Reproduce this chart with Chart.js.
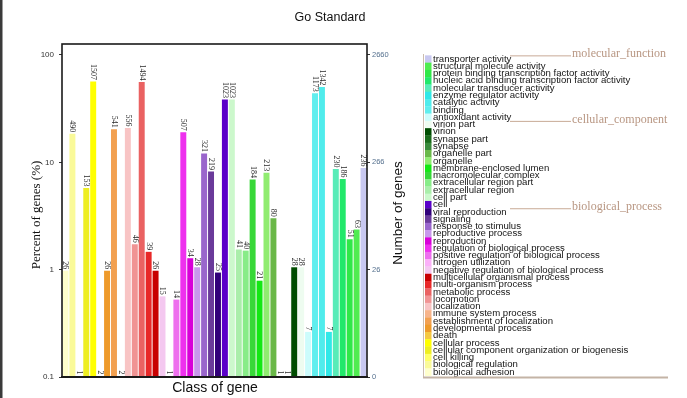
<!DOCTYPE html>
<html>
<head>
<meta charset="utf-8">
<script src="https://cdn.jsdelivr.net/npm/chart.js@4/dist/chart.umd.min.js"></script>
<style>
  html, body { margin: 0; padding: 0; background: #fff; }
  #wrap { position: relative; width: 687px; height: 398px; }
</style>
</head>
<body>
<div id="wrap"><canvas id="c" width="687" height="398"></canvas></div>
<script>
// GO terms, ordered left to right along the x axis
const categories = [
  'biological adhesion', 'biological regulation', 'cell killing',
  'cellular component organization or biogenesis', 'cellular process', 'death',
  'developmental process', 'establishment of localization', 'immune system process',
  'localization', 'locomotion', 'metabolic process', 'multi-organism process',
  'multicellular organismal process', 'negative regulation of biological process',
  'nitrogen utilization', 'positive regulation of biological process',
  'regulation of biological process', 'reproduction', 'reproductive process',
  'response to stimulus', 'signaling', 'viral reproduction',
  'cell', 'cell part', 'extracellular region', 'extracellular region part',
  'macromolecular complex', 'membrane-enclosed lumen', 'organelle', 'organelle part',
  'synapse', 'synapse part', 'virion', 'virion part',
  'antioxidant activity', 'binding', 'catalytic activity', 'enzyme regulator activity',
  'molecular transducer activity', 'nucleic acid binding transcription factor activity',
  'protein binding transcription factor activity', 'structural molecule activity',
  'transporter activity'
];

// number of genes annotated to each term
const geneCounts = [
  26, 490, 1, 153, 1507, 2,
  26, 541, 2, 556, 46, 1494, 39,
  26, 15, 1, 14,
  507, 34, 28, 321, 219, 25,
  1023, 1023, 41, 40, 184, 21, 213, 80,
  1, 1, 28, 28,
  7, 1173, 1342, 7, 230, 186, 51, 63, 236
];

const barColors = [
  '#ffffcc', '#fafa99', '#ffff66', '#eeee22', '#ffff00', '#f5c842',
  '#ee9a2a', '#f2a050', '#f7b48a', '#f8c4c4', '#f09494', '#ea6262', '#e82828',
  '#c80000', '#f4c8f0', '#fbb0f8', '#ee70ee', '#ee30ee', '#d800d8', '#c898ec',
  '#9a66cc', '#6a3a9a', '#32007a',
  '#5a00c8', '#ccf8cc', '#aaeeaa', '#88ec88', '#38d838', '#14e814', '#90ec70', '#6ab848',
  '#3a8a3a', '#1a6a1a', '#004c00', '#eefcf0',
  '#ccfcfc', '#60eeee', '#50ecec', '#30e8e8', '#58ecb8', '#22e86a', '#30e848', '#50ec50',
  '#c8c8f0'
];

// ontology groups: first term index of each group
const groupNames  = ['biological_process', 'cellular_component', 'molecular_function'];
const groupStarts = [0, 23, 35];

const TOTAL_GENES = 2660;
const pctTicks = [0.1, 1, 10, 100];
const pctTickLabels = ['0.1', '1', '10', '100'];
const countTicks = [2.66, 26.6, 266, 2660];
const countTickLabels = ['0', '26', '266', '2660'];
const PCT_MIN = 0.1, PCT_MAX = 126.6;

// value labels on top of the bars, written sideways
const barLabels = {
  id: 'barLabels',
  afterDatasetsDraw(chart) {
    const ctx = chart.ctx;
    const area = chart.chartArea;
    const meta = chart.getDatasetMeta(0);
    ctx.save();
    ctx.fillStyle = '#2a2a2a';
    ctx.font = '8px "Liberation Serif", serif';
    meta.data.forEach((bar, i) => {
      const top = Math.min(bar.y, area.bottom - 1);
      ctx.save();
      ctx.translate(bar.x, top - 1.5);
      ctx.rotate(Math.PI / 2);
      ctx.textAlign = 'right';
      ctx.textBaseline = 'middle';
      ctx.fillText(String(geneCounts[i]), 0, 0);
      ctx.restore();
    });
    ctx.restore();
  }
};

// frame, titles and the grouped term list on the right
const decorations = {
  id: 'decorations',
  afterDraw(chart) {
    const ctx = chart.ctx;
    const a = chart.chartArea;
    ctx.save();

    // dark edge on the left of the page
    ctx.fillStyle = '#3a3a3a';
    ctx.fillRect(0, 0, 2.5, chart.height);

    // plot frame
    ctx.strokeStyle = '#1a1a1a';
    ctx.lineWidth = 1.6;
    ctx.strokeRect(a.left, a.top, a.right - a.left, a.bottom - a.top);
    ctx.lineWidth = 2.2;
    ctx.beginPath();
    ctx.moveTo(a.left - 1, a.bottom);
    ctx.lineTo(a.right + 1, a.bottom);
    ctx.stroke();

    // title
    ctx.fillStyle = '#111';
    ctx.font = '12.5px "Liberation Sans", Arial, sans-serif';
    ctx.textAlign = 'center';
    ctx.textBaseline = 'middle';
    ctx.fillText('Go Standard', 330, 18);

    // x axis title
    ctx.font = '14px "Liberation Sans", Arial, sans-serif';
    ctx.fillText('Class of gene', 215, 388);

    // left axis title
    ctx.save();
    ctx.translate(37, 215);
    ctx.rotate(-Math.PI / 2);
    ctx.font = '13px "Liberation Serif", serif';
    ctx.fillText('Percent of genes (%)', 0, 0);
    ctx.restore();

    // right axis title
    ctx.save();
    ctx.translate(398, 213);
    ctx.rotate(-Math.PI / 2);
    ctx.font = '13.5px "Liberation Sans", Arial, sans-serif';
    ctx.fillText('Number of genes', 0, 0);
    ctx.restore();

    // term list, last term at the top
    const rowTop = 59, rowH = 7.28, swX = 425, swW = 6.5, txtX = 433;
    const n = categories.length;
    ctx.textAlign = 'left';
    ctx.textBaseline = 'middle';
    ctx.font = '9.6px "Liberation Sans", Arial, sans-serif';
    for (let r = 0; r < n; r++) {
      const i = n - 1 - r;
      const y = rowTop + r * rowH;
      ctx.fillStyle = barColors[i];
      ctx.fillRect(swX, y - rowH / 2, swW, rowH + 0.3);
      ctx.fillStyle = '#151515';
      ctx.fillText(categories[i], txtX, y);
    }

    // group headers with leader lines
    ctx.strokeStyle = '#c8aa96';
    ctx.fillStyle = '#b89682';
    ctx.lineWidth = 1;
    ctx.font = '12px "Liberation Serif", serif';
    ctx.textBaseline = 'alphabetic';
    groupNames.forEach((g, k) => {
      const lastIdx = (k + 1 < groupStarts.length ? groupStarts[k + 1] : n) - 1;
      const r = n - 1 - lastIdx;
      const y = rowTop + (r - 0.5) * rowH;
      ctx.beginPath();
      ctx.moveTo(510, y + 0.5);
      ctx.lineTo(571, y + 0.5);
      ctx.stroke();
      ctx.fillText(g, 572, y + 2);
    });

    // list box edges
    ctx.strokeStyle = '#cbbcae';
    ctx.lineWidth = 1;
    ctx.beginPath();
    ctx.moveTo(423.5, 54);
    ctx.lineTo(423.5, 377.5);
    ctx.stroke();
    ctx.lineWidth = 2;
    ctx.strokeStyle = '#c4b4a6';
    ctx.beginPath();
    ctx.moveTo(423, 377.5);
    ctx.lineTo(668, 377.5);
    ctx.stroke();

    ctx.restore();
  }
};

new Chart(document.getElementById('c'), {
  type: 'bar',
  data: {
    labels: categories,
    datasets: [{
      data: geneCounts,
      backgroundColor: barColors,
      borderWidth: 0,
      yAxisID: 'count',
      categoryPercentage: 1,
      barPercentage: 0.86,
      clip: 0
    }]
  },
  options: {
    responsive: false,
    animation: false,
    events: [],
    layout: { padding: { left: 0, right: 290, top: 44, bottom: 0 } },
    plugins: { legend: { display: false }, tooltip: { enabled: false }, title: { display: false } },
    scales: {
      x: {
        type: 'category',
        offset: true,
        ticks: { display: false },
        grid: { display: false },
        border: { display: false },
        afterFit: s => { s.height = 21; }
      },
      pct: {
        type: 'logarithmic',
        position: 'left',
        min: PCT_MIN,
        max: PCT_MAX,
        afterBuildTicks: s => { s.ticks = pctTicks.map(v => ({ value: v })); },
        ticks: {
          autoSkip: false,
          font: { size: 8, family: '"Liberation Sans", Arial, sans-serif' },
          color: '#333',
          padding: 5,
          callback: (v, idx) => pctTickLabels[idx]
        },
        grid: { drawOnChartArea: false, tickLength: 3, color: '#333', lineWidth: 1 },
        border: { display: false },
        afterFit: s => { s.width = 62; }
      },
      count: {
        type: 'logarithmic',
        position: 'right',
        min: PCT_MIN * TOTAL_GENES / 100,
        max: PCT_MAX * TOTAL_GENES / 100,
        afterBuildTicks: s => { s.ticks = countTicks.map(v => ({ value: v })); },
        ticks: {
          autoSkip: false,
          font: { size: 7.5, family: '"Liberation Sans", Arial, sans-serif' },
          color: '#55708e',
          padding: 2,
          callback: (v, idx) => countTickLabels[idx]
        },
        grid: { drawOnChartArea: false, tickLength: 3, color: '#333', lineWidth: 1 },
        border: { display: false },
        afterFit: s => { s.width = 30; }
      }
    }
  },
  plugins: [barLabels, decorations]
});
</script>
</body>
</html>
